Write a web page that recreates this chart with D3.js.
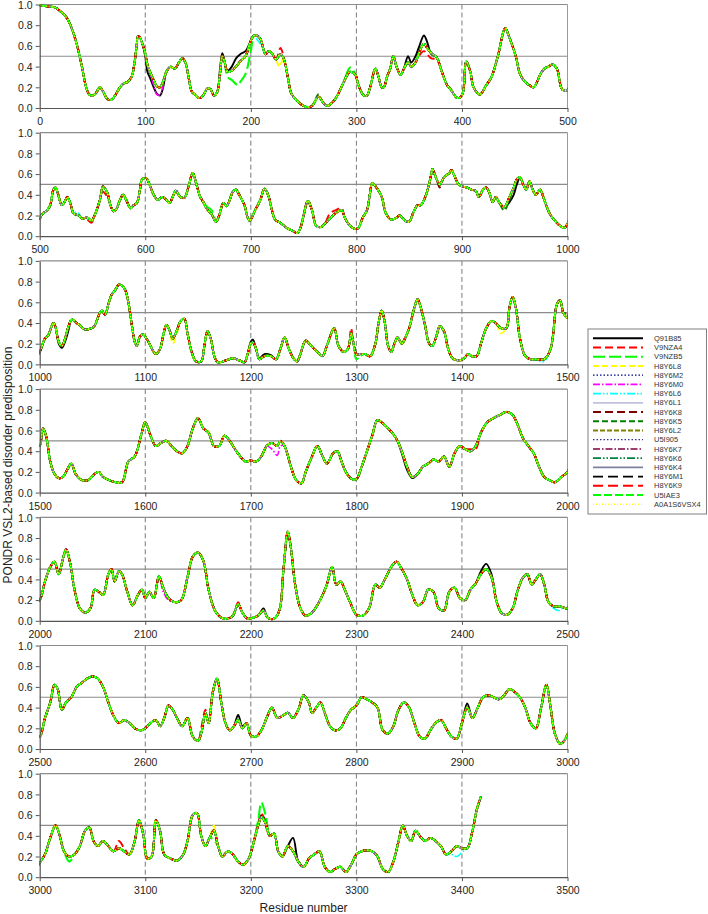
<!DOCTYPE html>
<html><head><meta charset="utf-8">
<script src="https://cdn.jsdelivr.net/npm/d3@7"></script>
<style>body{margin:0;background:#fff}svg{display:block}text{font-family:"Liberation Sans",Arial,sans-serif}</style>
</head><body><svg id="c" width="708" height="914"></svg>
<script>
const seriesNames = ["Q91B85","V9NZA4","V9NZB5","H8Y6L8","H8Y6M2","H8Y6M0","H8Y6L6","H8Y6L1","H8Y6K8","H8Y6K5","H8Y6L2","U5I905","H8Y6K7","H8Y6K6","H8Y6K4","H8Y6M1","H8Y6K9","U5IAE3","A0A1S6VSX4"];
const panelStarts = [0,500,1000,1500,2000,2500,3000];
const xTickOffsets = [0,100,200,300,400,500];
const yTicks = [0,0.2,0.4,0.6,0.8,1.0];
const refLines = [0.5,1.0];
const xTitle = "Residue number";
const yTitle = "PONDR VSL2-based disorder predisposition";

// consensus disorder profile [residue, score]
const consensus = [
[0,0.99],[5,0.985],[10,0.98],[15,0.97],[20,0.93],[25,0.88],[30,0.78],[35,0.62],[40,0.40],[44,0.20],[47,0.13],[50,0.12],[53,0.14],[57,0.20],[60,0.16],[63,0.10],[65,0.08],[68,0.08],[72,0.13],[76,0.20],[80,0.24],[83,0.25],[87,0.30],[90,0.45],[92,0.62],[93,0.69],[95,0.68],[97,0.63],[100,0.53],[102,0.42],[105,0.34],[108,0.27],[111,0.21],[114,0.20],[117,0.26],[120,0.35],[124,0.40],[128,0.38],[132,0.44],[135,0.48],[138,0.44],[141,0.30],[144,0.16],[147,0.13],[150,0.10],[153,0.10],[156,0.14],[159,0.19],[162,0.18],[165,0.12],[168,0.15],[171,0.35],[173,0.50],[175,0.45],[178,0.35],[182,0.36],[186,0.40],[190,0.45],[195,0.50],[200,0.65],[203,0.70],[206,0.70],[209,0.67],[214,0.52],[217,0.55],[220,0.53],[224,0.47],[228,0.52],[231,0.48],[235,0.30],[238,0.15],[241,0.10],[247,0.04],[253,0.01],[258,0.02],[264,0.11],[268,0.06],[272,0.02],[277,0.05],[282,0.12],[288,0.25],[294,0.35],[299,0.32],[302,0.22],[307,0.12],[310,0.12],[313,0.20],[318,0.38],[321,0.30],[324,0.20],[326,0.20],[329,0.30],[332,0.38],[335,0.50],[338,0.40],[342,0.32],[345,0.38],[349,0.44],[352,0.40],[356,0.44],[359,0.52],[364,0.62],[367,0.58],[371,0.53],[376,0.49],[381,0.35],[386,0.22],[390,0.17],[395,0.10],[398,0.10],[401,0.15],[404,0.45],[408,0.35],[411,0.20],[417,0.13],[423,0.22],[428,0.30],[434,0.50],[441,0.77],[445,0.68],[451,0.50],[455,0.33],[460,0.25],[464,0.22],[468,0.20],[471,0.25],[474,0.32],[478,0.38],[482,0.40],[486,0.42],[490,0.38],[495,0.18],[500,0.17],
[502,0.21],[507,0.25],[510,0.30],[513,0.45],[515,0.47],[517,0.42],[521,0.30],[524,0.34],[526,0.38],[529,0.32],[532,0.22],[537,0.20],[540,0.17],[545,0.18],[549,0.15],[552,0.20],[557,0.35],[560,0.48],[564,0.42],[567,0.30],[570,0.24],[573,0.27],[576,0.35],[579,0.40],[582,0.35],[586,0.27],[589,0.30],[592,0.32],[595,0.45],[597,0.55],[601,0.56],[604,0.50],[608,0.40],[612,0.35],[616,0.38],[620,0.35],[623,0.32],[626,0.38],[629,0.44],[633,0.38],[637,0.37],[641,0.48],[645,0.61],[648,0.52],[652,0.38],[655,0.33],[658,0.27],[663,0.21],[667,0.14],[670,0.20],[674,0.32],[677,0.29],[680,0.35],[683,0.43],[686,0.45],[689,0.40],[694,0.30],[697,0.18],[699,0.15],[704,0.25],[709,0.35],[713,0.46],[717,0.38],[720,0.25],[723,0.16],[728,0.13],[734,0.08],[740,0.05],[744,0.03],[747,0.08],[750,0.20],[754,0.34],[758,0.25],[762,0.10],[767,0.09],[770,0.12],[775,0.17],[780,0.22],[786,0.25],[789,0.18],[794,0.10],[799,0.07],[802,0.08],[806,0.18],[810,0.25],[813,0.42],[815,0.51],[819,0.47],[824,0.38],[828,0.22],[833,0.16],[838,0.18],[841,0.20],[846,0.15],[850,0.14],[854,0.23],[858,0.30],[861,0.30],[866,0.40],[871,0.60],[872,0.65],[876,0.55],[879,0.50],[883,0.57],[888,0.61],[890,0.64],[893,0.58],[897,0.50],[901,0.48],[905,0.47],[909,0.45],[913,0.44],[916,0.38],[920,0.45],[923,0.47],[926,0.42],[929,0.33],[932,0.38],[935,0.33],[940,0.28],[945,0.38],[949,0.47],[952,0.55],[955,0.57],[958,0.50],[961,0.45],[964,0.53],[967,0.45],[970,0.40],[974,0.45],[978,0.35],[983,0.22],[988,0.15],[993,0.10],[997,0.08],[1000,0.12],
[1005,0.25],[1008,0.28],[1013,0.40],[1015,0.36],[1018,0.22],[1021,0.18],[1024,0.25],[1027,0.36],[1030,0.43],[1032,0.43],[1035,0.40],[1038,0.38],[1042,0.34],[1046,0.34],[1051,0.36],[1054,0.42],[1057,0.50],[1059,0.52],[1062,0.48],[1065,0.58],[1068,0.67],[1071,0.71],[1075,0.77],[1078,0.76],[1081,0.72],[1084,0.60],[1087,0.40],[1090,0.22],[1092,0.18],[1095,0.27],[1098,0.29],[1101,0.25],[1104,0.20],[1108,0.12],[1110,0.10],[1114,0.15],[1117,0.28],[1120,0.38],[1123,0.33],[1126,0.25],[1130,0.33],[1133,0.41],[1137,0.44],[1140,0.30],[1144,0.12],[1148,0.03],[1153,0.03],[1156,0.18],[1159,0.32],[1162,0.25],[1166,0.06],[1169,0.02],[1177,0.04],[1183,0.06],[1189,0.04],[1194,0.02],[1197,0.10],[1200,0.20],[1202,0.21],[1205,0.15],[1208,0.05],[1213,0.08],[1219,0.08],[1224,0.05],[1228,0.15],[1232,0.26],[1236,0.15],[1241,0.05],[1244,0.03],[1247,0.10],[1252,0.23],[1257,0.18],[1263,0.12],[1268,0.08],[1272,0.18],[1279,0.35],[1283,0.18],[1288,0.12],[1292,0.15],[1295,0.30],[1297,0.22],[1300,0.10],[1304,0.10],[1308,0.10],[1313,0.08],[1318,0.20],[1321,0.40],[1324,0.52],[1327,0.40],[1330,0.18],[1333,0.12],[1336,0.20],[1339,0.26],[1343,0.20],[1346,0.25],[1350,0.35],[1355,0.55],[1358,0.63],[1361,0.55],[1365,0.38],[1369,0.20],[1372,0.18],[1376,0.28],[1379,0.37],[1383,0.32],[1387,0.15],[1391,0.06],[1396,0.04],[1401,0.05],[1406,0.10],[1409,0.08],[1414,0.08],[1418,0.20],[1423,0.35],[1428,0.42],[1432,0.40],[1437,0.35],[1442,0.35],[1445,0.55],[1448,0.65],[1451,0.55],[1455,0.25],[1460,0.08],[1465,0.05],[1470,0.05],[1478,0.05],[1484,0.15],[1490,0.58],[1493,0.62],[1496,0.50],[1500,0.45],
[1503,0.62],[1506,0.55],[1510,0.30],[1514,0.18],[1518,0.14],[1522,0.15],[1526,0.22],[1530,0.28],[1534,0.18],[1540,0.12],[1546,0.12],[1552,0.18],[1556,0.20],[1560,0.15],[1566,0.12],[1572,0.10],[1578,0.10],[1584,0.30],[1590,0.35],[1596,0.55],[1600,0.68],[1605,0.55],[1610,0.45],[1615,0.48],[1620,0.50],[1625,0.45],[1630,0.40],[1635,0.38],[1640,0.45],[1645,0.62],[1650,0.72],[1655,0.62],[1660,0.58],[1665,0.45],[1670,0.45],[1675,0.55],[1680,0.50],[1685,0.42],[1690,0.35],[1695,0.30],[1700,0.31],[1705,0.30],[1710,0.35],[1715,0.45],[1720,0.48],[1725,0.45],[1728,0.50],[1732,0.45],[1738,0.25],[1743,0.12],[1748,0.09],[1752,0.20],[1758,0.35],[1763,0.45],[1768,0.35],[1772,0.28],[1778,0.38],[1782,0.40],[1786,0.30],[1790,0.20],[1796,0.13],[1800,0.13],[1805,0.25],[1810,0.40],[1815,0.55],[1820,0.70],[1826,0.66],[1832,0.60],[1838,0.52],[1843,0.40],[1848,0.25],[1853,0.15],[1858,0.18],[1863,0.25],[1868,0.28],[1873,0.32],[1878,0.30],[1883,0.35],[1888,0.25],[1893,0.38],[1898,0.45],[1903,0.42],[1908,0.40],[1913,0.45],[1918,0.58],[1924,0.68],[1930,0.72],[1936,0.75],[1942,0.78],[1948,0.75],[1953,0.65],[1958,0.52],[1963,0.45],[1968,0.38],[1973,0.25],[1978,0.15],[1983,0.12],[1988,0.10],[1994,0.15],[2000,0.20],
[2005,0.38],[2010,0.52],[2014,0.57],[2018,0.45],[2022,0.60],[2025,0.69],[2029,0.55],[2033,0.30],[2038,0.12],[2043,0.08],[2048,0.12],[2052,0.30],[2056,0.28],[2060,0.25],[2065,0.45],[2068,0.50],[2071,0.38],[2075,0.48],[2078,0.45],[2083,0.28],[2088,0.15],[2093,0.25],[2097,0.30],[2100,0.22],[2104,0.28],[2108,0.22],[2113,0.43],[2117,0.32],[2122,0.22],[2128,0.18],[2134,0.20],[2140,0.42],[2145,0.62],[2150,0.66],[2155,0.58],[2160,0.30],[2166,0.10],[2172,0.03],[2178,0.02],[2183,0.05],[2188,0.16],[2192,0.08],[2197,0.02],[2202,0.03],[2207,0.05],[2212,0.10],[2216,0.03],[2222,0.02],[2227,0.10],[2231,0.50],[2235,0.86],[2238,0.70],[2242,0.35],[2247,0.12],[2252,0.05],[2258,0.08],[2263,0.15],[2268,0.25],[2272,0.35],[2277,0.52],[2281,0.35],[2285,0.38],[2289,0.30],[2294,0.18],[2300,0.06],[2306,0.05],[2312,0.12],[2318,0.35],[2322,0.32],[2327,0.40],[2333,0.52],[2338,0.57],[2343,0.50],[2348,0.40],[2353,0.25],[2358,0.15],[2363,0.18],[2368,0.30],[2373,0.28],[2378,0.12],[2383,0.10],[2388,0.28],[2393,0.32],[2398,0.22],[2403,0.20],[2408,0.30],[2413,0.36],[2418,0.45],[2423,0.50],[2428,0.42],[2433,0.18],[2438,0.07],[2443,0.06],[2448,0.12],[2453,0.30],[2458,0.42],[2462,0.45],[2466,0.35],[2470,0.40],[2474,0.45],[2478,0.35],[2482,0.18],[2487,0.14],[2492,0.14],[2496,0.13],[2500,0.12],
[2505,0.30],[2510,0.45],[2514,0.62],[2517,0.58],[2521,0.38],[2525,0.45],[2530,0.50],[2535,0.60],[2540,0.64],[2545,0.68],[2550,0.70],[2555,0.68],[2560,0.60],[2565,0.45],[2570,0.32],[2575,0.25],[2580,0.28],[2585,0.25],[2590,0.20],[2596,0.18],[2600,0.20],[2605,0.25],[2610,0.28],[2614,0.22],[2618,0.30],[2622,0.42],[2626,0.38],[2630,0.30],[2635,0.22],[2640,0.30],[2645,0.12],[2650,0.08],[2653,0.15],[2657,0.35],[2660,0.25],[2664,0.55],[2668,0.68],[2672,0.45],[2676,0.25],[2680,0.18],[2684,0.22],[2688,0.28],[2692,0.20],[2696,0.25],[2700,0.13],[2705,0.12],[2710,0.18],[2715,0.30],[2720,0.40],[2725,0.30],[2730,0.32],[2735,0.35],[2740,0.30],[2745,0.38],[2750,0.52],[2755,0.45],[2758,0.35],[2762,0.40],[2766,0.45],[2770,0.35],[2775,0.22],[2780,0.18],[2785,0.20],[2790,0.30],[2795,0.38],[2800,0.42],[2805,0.50],[2810,0.48],[2815,0.45],[2820,0.40],[2825,0.18],[2830,0.15],[2835,0.22],[2840,0.38],[2845,0.45],[2850,0.40],[2855,0.25],[2860,0.12],[2865,0.10],[2870,0.18],[2875,0.25],[2880,0.28],[2885,0.20],[2890,0.12],[2895,0.10],[2900,0.25],[2905,0.40],[2910,0.30],[2915,0.40],[2920,0.50],[2925,0.52],[2930,0.50],[2935,0.48],[2940,0.52],[2945,0.58],[2950,0.55],[2955,0.50],[2960,0.40],[2965,0.25],[2970,0.20],[2975,0.40],[2980,0.62],[2984,0.40],[2988,0.15],[2993,0.05],[2997,0.08],[3000,0.14],
[3005,0.22],[3010,0.38],[3015,0.50],[3019,0.40],[3023,0.25],[3028,0.20],[3033,0.22],[3038,0.30],[3043,0.45],[3047,0.48],[3051,0.35],[3055,0.30],[3060,0.35],[3065,0.30],[3070,0.25],[3075,0.28],[3080,0.25],[3085,0.22],[3090,0.35],[3094,0.55],[3098,0.42],[3102,0.18],[3106,0.20],[3110,0.55],[3114,0.45],[3118,0.22],[3124,0.18],[3130,0.16],[3136,0.22],[3140,0.35],[3145,0.60],[3149,0.62],[3153,0.40],[3157,0.30],[3161,0.38],[3165,0.45],[3169,0.30],[3173,0.20],[3178,0.25],[3183,0.22],[3188,0.15],[3193,0.12],[3198,0.18],[3203,0.35],[3207,0.50],[3210,0.58],[3214,0.52],[3218,0.40],[3222,0.42],[3226,0.25],[3230,0.20],[3235,0.30],[3240,0.25],[3245,0.15],[3250,0.10],[3255,0.18],[3260,0.22],[3265,0.25],[3270,0.10],[3275,0.05],[3280,0.08],[3285,0.10],[3290,0.05],[3295,0.12],[3300,0.22],[3305,0.25],[3310,0.26],[3315,0.25],[3320,0.20],[3325,0.08],[3330,0.05],[3335,0.15],[3340,0.35],[3344,0.50],[3348,0.40],[3352,0.35],[3356,0.45],[3360,0.40],[3365,0.35],[3370,0.38],[3375,0.35],[3380,0.30],[3385,0.22],[3390,0.25],[3395,0.30],[3400,0.28],[3405,0.28],[3410,0.45],[3414,0.65],[3418,0.78]
];

// per-series segments that depart from the consensus profile
const variants = {
 "Q91B85": [
  [[97,0.63],[100,0.50],[102,0.35],[105,0.28],[108,0.20],[111,0.14],[114,0.12],[117,0.20],[120,0.35]],
  [[168,0.15],[171,0.40],[173,0.53],[175,0.46],[178,0.36],[182,0.40],[186,0.48],[190,0.52],[195,0.55],[200,0.65]],
  [[345,0.38],[349,0.50],[352,0.44],[356,0.50],[359,0.58],[364,0.70],[367,0.64],[371,0.52],[376,0.49]],
  [[940,0.28],[945,0.33],[949,0.40],[952,0.50],[955,0.57]],
  [[1015,0.36],[1018,0.20],[1021,0.16],[1024,0.22],[1027,0.32],[1030,0.43]],
  [[1197,0.10],[1200,0.22],[1202,0.24],[1205,0.15],[1208,0.06],[1213,0.10],[1219,0.09],[1224,0.05]],
  [[1838,0.52],[1843,0.38],[1848,0.22],[1853,0.14],[1858,0.18]],
  [[2207,0.05],[2212,0.12],[2216,0.03]],
  [[2413,0.36],[2418,0.48],[2423,0.55],[2428,0.45],[2433,0.18]],
  [[2684,0.22],[2688,0.33],[2692,0.22],[2696,0.25]],
  [[2900,0.25],[2905,0.44],[2910,0.30]],
  [[3203,0.35],[3207,0.52],[3210,0.60],[3214,0.55],[3218,0.40]],
  [[3235,0.30],[3240,0.38],[3245,0.15]]
 ],
 "V9NZA4": [
  [[224,0.47],[228,0.58],[231,0.50],[235,0.30]],
  [[356,0.44],[359,0.50],[364,0.55],[367,0.52],[371,0.48],[376,0.47],[381,0.35]],
  [[540,0.17],[545,0.16],[549,0.13],[552,0.20]],
  [[557,0.35],[560,0.43],[564,0.38],[567,0.30]],
  [[770,0.12],[775,0.22],[780,0.25],[786,0.27],[789,0.18]],
  [[1292,0.15],[1295,0.35],[1297,0.22]],
  [[1496,0.50],[1500,0.50],[1503,0.62]],
  [[1903,0.42],[1908,0.42],[1913,0.42],[1918,0.58]],
  [[2183,0.05],[2188,0.18],[2192,0.08]],
  [[2650,0.08],[2653,0.20],[2657,0.38],[2660,0.25]],
  [[3070,0.25],[3075,0.35],[3080,0.28],[3085,0.22]],
  [[3161,0.38],[3165,0.46],[3169,0.30]],
  [[3203,0.35],[3207,0.50],[3210,0.62],[3214,0.50],[3218,0.40]]
 ],
 "V9NZB5": [
  [[175,0.45],[178,0.30],[182,0.27],[186,0.23],[188,0.22],[190,0.25],[195,0.33],[200,0.55],[203,0.70]],
  [[288,0.25],[294,0.39],[299,0.33]],
  [[652,0.38],[655,0.33],[658,0.29],[663,0.25],[667,0.15]],
  [[3023,0.25],[3028,0.15],[3033,0.22]],
  [[3161,0.38],[3165,0.36],[3169,0.30]],
  [[3203,0.35],[3207,0.55],[3210,0.72],[3214,0.60],[3218,0.40]]
 ],
 "H8Y6L8": [
  [[224,0.47],[227,0.40],[231,0.48]],
  [[1120,0.38],[1123,0.33],[1126,0.20],[1130,0.30],[1133,0.41]],
  [[1432,0.40],[1437,0.30],[1442,0.35]],
  [[3161,0.38],[3165,0.50],[3169,0.30]]
 ],
 "H8Y6M0": [
  [[105,0.32],[108,0.22],[111,0.13],[114,0.13],[117,0.22],[120,0.35]],
  [[1715,0.45],[1720,0.42],[1725,0.36],[1728,0.45],[1732,0.45]],
  [[2113,0.43],[2117,0.28],[2122,0.20],[2128,0.18]]
 ],
 "H8Y6L6": [
  [[203,0.70],[206,0.66],[209,0.62],[214,0.52]],
  [[526,0.38],[529,0.32],[532,0.24],[537,0.22],[540,0.17]],
  [[1465,0.05],[1470,0.04],[1478,0.03],[1484,0.15]],
  [[2482,0.18],[2487,0.12],[2492,0.10],[2496,0.13]],
  [[3385,0.22],[3390,0.22],[3395,0.20],[3400,0.24],[3405,0.28]]
 ],
 "H8Y6K8": [
  [[876,0.55],[879,0.47],[883,0.57]]
 ],
 "H8Y6K5": [
  [[258,0.02],[264,0.13],[268,0.06]],
  [[932,0.38],[935,0.33],[940,0.25],[945,0.35]]
 ],
 "U5IAE3": [
  [[1297,0.22],[1300,0.05],[1304,0.08],[1308,0.10]]
 ]
};

const X0 = 39.7, X1 = 567.5, TOP0 = 4.5, PITCH = 128.2, PH = 103.5;

const styles = {
 "Q91B85":{c:"#000000",w:1.9,d:null},
 "V9NZA4":{c:"#ff0000",w:1.9,d:"8,4"},
 "V9NZB5":{c:"#00ff00",w:2.1,d:"12,4"},
 "H8Y6L8":{c:"#ffff00",w:1.9,d:"6,3"},
 "H8Y6M2":{c:"#000080",w:1.3,d:"1.5,2"},
 "H8Y6M0":{c:"#ff00ff",w:1.6,d:"7,2,1.5,2"},
 "H8Y6L6":{c:"#00ffff",w:1.6,d:"8,2,1.5,2,1.5,2"},
 "H8Y6L1":{c:"#c0c0e0",w:1.6,d:null},
 "H8Y6K8":{c:"#800000",w:1.9,d:"8,4"},
 "H8Y6K5":{c:"#008000",w:1.9,d:"6,3"},
 "H8Y6L2":{c:"#808000",w:1.9,d:"5,2"},
 "U5I905":{c:"#333399",w:1.3,d:"1.5,2"},
 "H8Y6K7":{c:"#800040",w:1.6,d:"7,2,1.5,2"},
 "H8Y6K6":{c:"#008040",w:1.6,d:"8,2,1.5,2,1.5,2"},
 "H8Y6K4":{c:"#8080a0",w:1.6,d:null},
 "H8Y6M1":{c:"#000000",w:1.9,d:"10,5"},
 "H8Y6K9":{c:"#ff0000",w:1.9,d:"10,5"},
 "U5IAE3":{c:"#00ff00",w:1.9,d:"8,3"},
 "A0A1S6VSX4":{c:"#ffff00",w:1.6,d:"1,2"}
};

function seriesPoints(name){
  const segs = variants[name] || [];
  let pts = consensus.filter(p => !segs.some(s => p[0] >= s[0][0] && p[0] <= s[s.length-1][0]));
  segs.forEach(s => { pts = pts.concat(s); });
  pts.sort((a,b) => a[0]-b[0]);
  return pts;
}
const allSeries = seriesNames.map(n => ({name:n, pts:seriesPoints(n)}));

const svg = d3.select("#c");
const y = d3.scaleLinear().domain([0,1]).range([PH,0]);
const pw = X1 - X0;

panelStarts.forEach((st,k) => {
  const g = svg.append("g").attr("transform", `translate(${X0},${TOP0 + k*PITCH})`);
  const x = d3.scaleLinear().domain([st, st+500]).range([0, pw]);
  const cid = "clip" + k;
  g.append("clipPath").attr("id", cid).append("rect").attr("x",0).attr("y",-2).attr("width",pw).attr("height",PH+2);

  g.selectAll(".vg").data(xTickOffsets.slice(1,5)).join("line")
    .attr("x1", d => x(st+d)).attr("x2", d => x(st+d)).attr("y1",0).attr("y2",PH)
    .attr("stroke","#7a7a7a").attr("stroke-width",1).attr("stroke-dasharray","5,3");
  g.append("line").attr("x1",x(st+500)).attr("x2",x(st+500)).attr("y1",0).attr("y2",PH)
    .attr("stroke","#9a9a9a").attr("stroke-width",1);
  g.selectAll(".hg").data(refLines).join("line")
    .attr("x1",0).attr("x2",pw).attr("y1",d=>y(d)).attr("y2",d=>y(d))
    .attr("stroke","#8c8c8c").attr("stroke-width",1.2);

  const line = d3.line().x(d => x(d[0])).y(d => y(d[1])).curve(d3.curveCatmullRom.alpha(0.5));
  const lg = g.append("g").attr("clip-path", `url(#${cid})`);
  allSeries.forEach(s => {
    const st0 = styles[s.name];
    const pts = s.pts.filter(p => (p[0] >= st-15 && p[0] <= st+515));
    lg.append("path").datum(pts).attr("d", line)
      .attr("fill","none").attr("stroke", st0.c).attr("stroke-width", st0.w)
      .attr("stroke-dasharray", st0.d).attr("stroke-linejoin","round");
  });

  const ya = g.append("g").call(d3.axisLeft(y).tickValues(yTicks).tickFormat(d3.format(".1f")).tickSize(4).tickSizeOuter(0));
  const xa = g.append("g").attr("transform",`translate(0,${PH})`)
    .call(d3.axisBottom(x).tickValues(xTickOffsets.map(d=>st+d)).tickFormat(d3.format("d")).tickSize(4).tickSizeOuter(0));
  [ya,xa].forEach(a => {
    a.select(".domain").attr("stroke","#555").attr("stroke-width",1.2);
    a.selectAll(".tick line").attr("stroke","#555");
    a.selectAll("text").attr("font-family",'"Liberation Sans",Arial,sans-serif').attr("font-size",10.5).attr("fill","#222");
  });
  xa.selectAll("text").attr("dy","0.95em");
  ya.selectAll("text").attr("dy","0.36em");
});

svg.append("text").attr("x", (X0+X1)/2).attr("y", 912).attr("text-anchor","middle")
  .attr("font-size",12).attr("fill","#222").text(xTitle);
svg.append("text").attr("transform",`translate(12,${465}) rotate(-90)`).attr("text-anchor","middle")
  .attr("font-size",12).attr("fill","#222").text(yTitle);

const leg = svg.append("g");
leg.append("rect").attr("x",588).attr("y",329).attr("width",118.5).attr("height",185)
  .attr("fill","#fff").attr("stroke","#808080").attr("stroke-width",1);
seriesNames.forEach((n,i) => {
  const yy = 338.3 + i*9.22;
  const s = styles[n];
  leg.append("line").attr("x1",593).attr("x2",643).attr("y1",yy).attr("y2",yy)
    .attr("stroke",s.c).attr("stroke-width",s.w).attr("stroke-dasharray",s.d);
  leg.append("text").attr("x",654).attr("y",yy).attr("dy","0.35em").attr("font-size",7.5).attr("fill","#333").text(n);
});
</script></body></html>
